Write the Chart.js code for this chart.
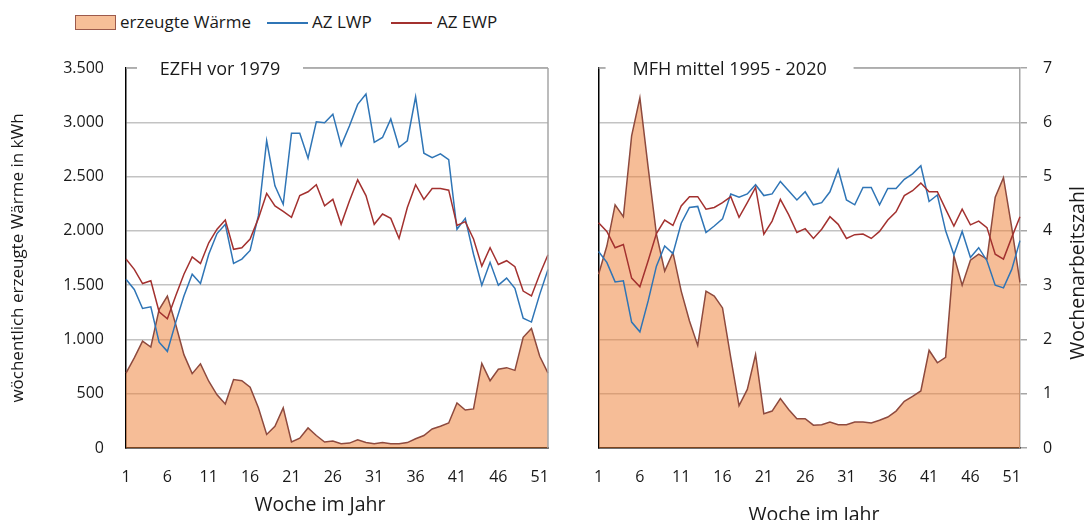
<!DOCTYPE html>
<html><head><meta charset="utf-8">
<script src="https://cdn.jsdelivr.net/npm/chart.js@4.4.0/dist/chart.umd.min.js"></script>
<style>
html,body{margin:0;padding:0;background:#fff;width:1088px;height:520px;overflow:hidden;font-family:'Open Sans',sans-serif;color:#1a1a1a;}
#c1{position:absolute;left:0;top:0;}
#c2{position:absolute;left:574px;top:0;}
.lg{position:absolute;font-size:17px;line-height:20px;white-space:nowrap;}
.sw{position:absolute;box-sizing:border-box;}
</style></head><body>
<div class="sw" style="left:75px;top:15px;width:41px;height:15px;background:#f7bf98;border:1.5px solid #9c5a4c;"></div>
<div class="lg" style="left:120px;top:12px;">erzeugte Wärme</div>
<div class="sw" style="left:267px;top:22px;width:41px;height:2px;background:#2f75b6;"></div>
<div class="lg" style="left:312px;top:12px;">AZ LWP</div>
<div class="sw" style="left:391px;top:22px;width:41px;height:2px;background:#a3312f;"></div>
<div class="lg" style="left:437px;top:12px;">AZ EWP</div>
<canvas id="c1" width="574" height="520"></canvas>
<canvas id="c2" width="514" height="520"></canvas>
<script>
const weeks = [1,2,3,4,5,6,7,8,9,10,11,12,13,14,15,16,17,18,19,20,21,22,23,24,25,26,27,28,29,30,31,32,33,34,35,36,37,38,39,40,41,42,43,44,45,46,47,48,49,50,51,52];
const heatTicks = ['0','500','1.000','1.500','2.000','2.500','3.000','3.500'];
const azTicks = ['0','1','2','3','4','5','6','7'];
const seriesNames = ['erzeugte Wärme','AZ LWP','AZ EWP'];
const panelTitles = ['EZFH vor 1979','MFH mittel 1995 - 2020'];
const axisTitles = {heat: 'wöchentlich erzeugte Wärme in kWh', az: 'Wochenarbeitszahl', week: 'Woche im Jahr'};

// EZFH vor 1979
const ezfhHeat = [690,830,985,930,1275,1400,1140,860,685,775,615,490,405,630,620,560,370,125,200,370,55,90,185,115,55,65,40,45,75,50,40,50,40,40,50,85,115,175,200,230,415,350,360,780,620,725,740,715,1020,1100,845,690];
const ezfhLWP = [3.11,2.92,2.57,2.60,1.95,1.78,2.31,2.80,3.20,3.03,3.57,3.95,4.12,3.40,3.48,3.64,4.28,5.66,4.83,4.49,5.80,5.80,5.34,6.01,5.99,6.15,5.57,5.93,6.33,6.52,5.63,5.72,6.06,5.54,5.66,6.47,5.43,5.35,5.42,5.31,4.03,4.23,3.57,3.00,3.42,3.00,3.13,2.94,2.39,2.32,2.83,3.29];
const ezfhEWP = [3.48,3.29,3.03,3.08,2.51,2.38,2.80,3.20,3.52,3.40,3.78,4.03,4.20,3.66,3.69,3.85,4.23,4.69,4.46,4.36,4.25,4.65,4.72,4.85,4.46,4.58,4.12,4.55,4.94,4.65,4.12,4.31,4.23,3.86,4.43,4.85,4.58,4.78,4.78,4.75,4.10,4.17,3.85,3.35,3.69,3.38,3.45,3.34,2.89,2.80,3.20,3.56];

// MFH mittel 1995 - 2020
const mfhHeat = [1600,1860,2240,2130,2875,3225,2585,1970,1630,1800,1445,1170,945,1445,1400,1290,830,390,540,860,315,340,455,355,270,270,210,215,240,215,215,240,240,230,255,285,340,430,475,525,900,785,835,1770,1500,1730,1785,1740,2310,2490,2030,1525];
const mfhLWP = [3.62,3.42,3.06,3.08,2.32,2.14,2.71,3.35,3.72,3.58,4.14,4.43,4.45,3.97,4.09,4.22,4.68,4.62,4.68,4.85,4.65,4.68,4.91,4.74,4.57,4.72,4.48,4.52,4.72,5.13,4.57,4.48,4.80,4.80,4.48,4.78,4.78,4.95,5.05,5.20,4.54,4.66,4.00,3.56,3.99,3.51,3.69,3.45,3.00,2.95,3.29,3.82];
const mfhEWP = [4.15,3.99,3.69,3.75,3.13,2.97,3.45,3.95,4.20,4.10,4.46,4.63,4.63,4.40,4.43,4.52,4.63,4.25,4.52,4.80,3.94,4.18,4.58,4.30,3.97,4.04,3.86,4.03,4.26,4.12,3.86,3.93,3.94,3.86,3.99,4.20,4.35,4.65,4.74,4.88,4.72,4.72,4.40,4.09,4.40,4.11,4.18,4.06,3.57,3.48,3.88,4.26];

Chart.defaults.font.family = "'Open Sans', sans-serif";
Chart.defaults.font.size = 16;
Chart.defaults.color = '#1a1a1a';

const FRAME = '#a6a6a6';
const GRID = '#c3c3c3';
const TXT = '#1a1a1a';

// cfg: {title, gapL, gapR, drawRight, weekX, weekY, azTitle}
function framePlugin(cfg) {
  return {
    id: 'frame',
    afterDraw(chart) {
      const {ctx} = chart;
      const {left, top, right, bottom} = chart.chartArea;
      ctx.save();
      ctx.strokeStyle = FRAME;
      ctx.lineWidth = 1.5;
      ctx.beginPath();
      ctx.moveTo(left, top); ctx.lineTo(right, top);
      if (cfg.drawRight) { ctx.moveTo(right, top); ctx.lineTo(right, bottom); }
      ctx.stroke();
      ctx.fillStyle = '#fff';
      ctx.fillRect(left + cfg.gapL, top - 12, cfg.gapR - cfg.gapL, 24);
      ctx.fillStyle = TXT;
      ctx.textAlign = 'center';
      ctx.textBaseline = 'middle';
      ctx.font = "18px 'Open Sans', sans-serif";
      ctx.fillText(cfg.title, left + (cfg.gapL + cfg.gapR) / 2, top + 2);
      // x-axis title
      ctx.font = "19.5px 'Open Sans', sans-serif";
      ctx.fillText(axisTitles.week, cfg.weekX, cfg.weekY);
      if (cfg.azTitle) {
        ctx.translate(cfg.azTitle[0], cfg.azTitle[1]);
        ctx.rotate(-Math.PI / 2);
        ctx.font = "19.5px 'Open Sans', sans-serif";
        ctx.fillText(axisTitles.az, 0, 0);
      }
      ctx.restore();
    }
  };
}

function datasets(heat, lwp, ewp) {
  return [
    {label: seriesNames[1], data: lwp, yAxisID: 'y2', borderColor: '#2f75b6', borderWidth: 1.5, fill: false, pointRadius: 0, tension: 0, order: 1},
    {label: seriesNames[2], data: ewp, yAxisID: 'y2', borderColor: '#a3312f', borderWidth: 1.5, fill: false, pointRadius: 0, tension: 0, order: 0},
    {label: seriesNames[0], data: heat, yAxisID: 'y', borderColor: '#8e4a3e', borderWidth: 1.5, backgroundColor: 'rgba(238,128,56,0.52)', fill: 'origin', pointRadius: 0, tension: 0, order: 2}
  ];
}

function xScale() {
  return {
    type: 'category', offset: false,
    grid: {display: false, drawTicks: false},
    border: {color: '#000', width: 1.5},
    ticks: {autoSkip: false, maxRotation: 0, padding: 20, callback: function(v, i) { return (i % 5 === 0) ? String(weeks[i]) : ''; }},
    title: {display: false},
    afterFit: s => { s.height = 72; }
  };
}

const common = {
  responsive: false, animation: false, devicePixelRatio: 1,
  plugins: {legend: {display: false}, tooltip: {enabled: false}},
  elements: {point: {radius: 0}}
};

new Chart(document.getElementById('c1'), {
  type: 'line',
  data: {labels: weeks, datasets: datasets(ezfhHeat, ezfhLWP, ezfhEWP)},
  options: Object.assign({}, common, {
    layout: {padding: {top: 68, left: 0, right: 574 - 548, bottom: 0}},
    scales: {
      x: xScale(),
      y: {
        min: 0, max: 3500,
        ticks: {stepSize: 500, padding: 22, callback: (v) => heatTicks[Math.round(v / 500)]},
        grid: {color: GRID, lineWidth: 1.5, drawTicks: false},
        border: {color: '#000', width: 1.5},
        title: {display: true, text: axisTitles.heat, font: {size: 17}, padding: {top: 8, bottom: 0}},
        afterFit: s => { s.width = 126; }
      },
      y2: {display: false, min: 0, max: 7}
    }
  }),
  plugins: [framePlugin({title: panelTitles[0], gapL: 11, gapR: 177, drawRight: true, weekX: 320, weekY: 505})]
});

new Chart(document.getElementById('c2'), {
  type: 'line',
  data: {labels: weeks, datasets: datasets(mfhHeat, mfhLWP, mfhEWP)},
  options: Object.assign({}, common, {
    layout: {padding: {top: 68, left: 0, right: 0, bottom: 0}},
    scales: {
      x: xScale(),
      y: {
        min: 0, max: 3500,
        ticks: {display: false, stepSize: 500},
        grid: {color: GRID, lineWidth: 1.5, drawTicks: false},
        border: {color: '#000', width: 1.5},
        afterFit: s => { s.width = 24; }
      },
      y2: {
        position: 'right', min: 0, max: 7,
        ticks: {stepSize: 1, padding: 16, callback: (v) => azTicks[Math.round(v)]},
        grid: {drawOnChartArea: false, drawTicks: true, tickLength: 7, color: FRAME, lineWidth: 1.5},
        border: {color: FRAME, width: 1.5},
        title: {display: false},
        afterFit: s => { s.width = 68; }
      }
    }
  }),
  plugins: [framePlugin({title: panelTitles[1], gapL: 7, gapR: 255, drawRight: false, weekX: 814 - 574, weekY: 515, azTitle: [1078 - 574, 273]})]
});
</script>
</body></html>
